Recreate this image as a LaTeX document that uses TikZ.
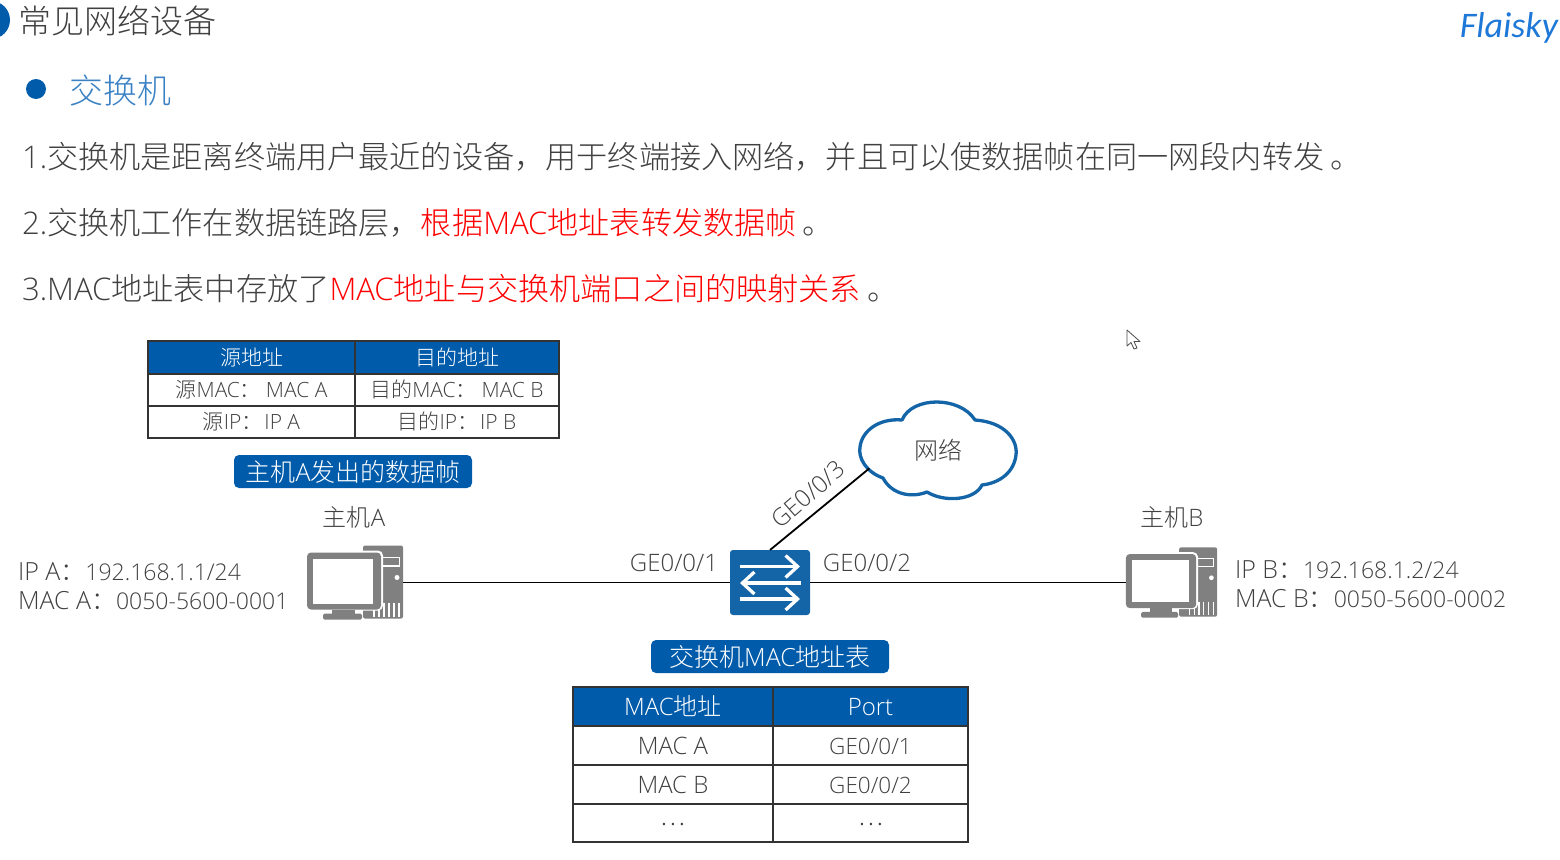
\documentclass[tikz,border=0pt]{standalone}
\usepackage{fontspec}
\setmainfont{Noto Sans CJK SC}[UprightFont=* Light]
\newfontfamily\latfont{Open Sans}[UprightFont=* Light]
\newfontfamily\markfont{Carlito}
\newcommand{\fsz}[1]{\fontsize{#1}{#1}\selectfont}
\newcommand{\lat}[1]{{\latfont #1}}
\newcommand{\latnum}[1]{{\latfont\fsz{23}#1}}
\definecolor{netblue}{RGB}{0, 91, 170}
\definecolor{swblue}{RGB}{20, 100, 168}
\definecolor{headblue}{RGB}{59, 130, 196}
\definecolor{bodygray}{RGB}{64, 64, 64}
\definecolor{pcgray}{RGB}{128, 128, 128}
\definecolor{markblue}{RGB}{30, 120, 215}
\usetikzlibrary{shapes, shapes.geometric, arrows.meta, positioning, calc}
\tikzset{
  every node/.append style={execute at begin node={\rule[-.12em]{0pt}{1em}}},
  plain/.style={inner sep=0pt, outer sep=0pt, text=bodygray},
  bodyline/.style={plain, anchor=west, font=\fsz{31.15}},
  infotext/.style={plain, anchor=west, font=\fsz{25}},
  porttext/.style={plain, font=\fsz{24}},
  headcell/.style={draw=black!80, line width=1.1pt, fill=netblue, text=white, inner sep=0pt, outer sep=0pt},
  bodycell/.style={draw=black!80, line width=1.1pt, fill=white, text=bodygray, inner sep=0pt, outer sep=0pt},
  tagbox/.style={fill=netblue, rounded corners=5pt, text=white, inner sep=0pt, minimum width=238pt, minimum height=33pt, font=\fsz{25}},
  pcnode/.style={inner sep=0pt, outer sep=0pt},
  link/.style={draw=black, line width=1.8pt},
  swarrow/.style={draw=white, line width=3.3pt, -{Straight Barb[length=12pt,width=22pt,line width=3.3pt]}},
  cloudline/.style={draw=swblue, line width=3.3pt, fill=white, line join=round},
  pcicon/.pic={
    \fill[pcgray, rounded corners=2pt] (8,-37) rectangle (48,36);
    \fill[white] (26,-26) rectangle (45,-16);
    \fill[pcgray] (27.5,-24.5) rectangle (43.5,-17.5);
    \fill[white] (42,-5) circle (2.5);
    \foreach \vx in {20,25,30,35,40,45} \draw[white, line width=1.2pt] (\vx-1,20) -- (\vx-1,34);
    \fill[white, rounded corners=5pt] (-50,-32) rectangle (28,28);
    \fill[pcgray, rounded corners=4pt] (-48,-30) rectangle (26,27);
    \fill[white] (-42,-24) rectangle (18,21);
    \fill[pcgray] (-23,27) rectangle (0,31);
    \fill[pcgray, rounded corners=1.5pt] (-32,31) rectangle (7,37);
  }
}

\begin{document}
\begin{tikzpicture}[x=1pt, y=-1pt]
  \useasboundingbox (0,0) rectangle (1560,859);

  \fill[netblue] (-9,20) circle (19);
  \node[plain, anchor=west, font=\fsz{33}] (title) at (18.5,21) {常见网络设备};
  \node[plain, anchor=east, text=markblue, font=\markfont\itshape\fsz{36}] (mark) at (1558,25) {Flaisky};
  \node[circle, fill=netblue, inner sep=0pt, minimum size=20pt] (dot) at (36,89) {};
  \node[plain, anchor=west, text=headblue, font=\fsz{34}] (head) at (69,91) {交换机};

  \node[bodyline] (lineone) at (22,157) {\lat{1.}交换机是距离终端用户最近的设备，用于终端接入网络，并且可以使数据帧在同一网段内转发\hspace{6pt}。};
  \node[bodyline] (linetwo) at (22,223) {\lat{2.}交换机工作在数据链路层，\textcolor{red}{根据\lat{MAC}地址表转发数据帧}\hspace{6pt}。};
  \node[bodyline] (linethree) at (22,289) {\lat{3.MAC}地址表中存放了\textcolor{red}{\lat{MAC}地址与交换机端口之间的映射关系}\hspace{6pt}。};

  \node[headcell, minimum width=207pt, minimum height=33pt, font=\fsz{21}] (srchead) at (251.5,357.5) {源地址};
  \node[headcell, minimum width=204pt, minimum height=33pt, font=\fsz{21}] (dsthead) at (457,357.5) {目的地址};
  \node[bodycell, minimum width=207pt, minimum height=32pt, font=\fsz{21}] (srcmac) at (251.5,390) {源\lat{MAC}：\hspace{5pt}\lat{MAC A}};
  \node[bodycell, minimum width=204pt, minimum height=32pt, font=\fsz{21}] (dstmac) at (457,390) {目的\lat{MAC}：\hspace{5pt}\lat{MAC B}};
  \node[bodycell, minimum width=207pt, minimum height=32pt, font=\fsz{21}] (srcip) at (251.5,422) {源\lat{IP}：\hspace{2pt}\lat{IP A}};
  \node[bodycell, minimum width=204pt, minimum height=32pt, font=\fsz{21}] (dstip) at (457,422) {目的\lat{IP}：\hspace{2pt}\lat{IP B}};
  \node[tagbox] (frametag) at (353,471.5) {主机\lat{A}发出的数据帧};

  \node[porttext] (hosta) at (354,517) {主机\lat{A}};
  \node[porttext] (hostb) at (1172,517) {主机\lat{B}};
  \node[infotext] (ipa) at (18,571) {\lat{IP A}：\latnum{192.168.1.1/24}};
  \node[infotext] (maca) at (18,600) {\lat{MAC A}：\latnum{0050-5600-0001}};
  \node[infotext] (ipb) at (1235,569) {\lat{IP B}：\latnum{192.168.1.2/24}};
  \node[infotext] (macb) at (1235,598) {\lat{MAC B}：\latnum{0050-5600-0002}};

  \node[pcnode, minimum width=96pt, minimum height=74pt] (pca) at (355,582.5) {};
  \pic at (pca) {pcicon};
  \node[pcnode, minimum width=91pt, minimum height=71pt] (pcb) at (1171.5,582.5) {};
  \pic[scale=0.95] at (pcb) {pcicon};

  \node[fill=swblue, rounded corners=3pt, inner sep=0pt, outer sep=0pt, minimum width=80pt, minimum height=65pt] (sw) at (770,582.5) {};
  \draw[swarrow] ([shift={(-30,-16)}]sw.center) -- ([shift={(30,-16)}]sw.center);
  \draw[swarrow] ([shift={(31,0.5)}]sw.center) -- ([shift={(-30,0.5)}]sw.center);
  \draw[swarrow] ([shift={(-30,16.5)}]sw.center) -- ([shift={(30,16.5)}]sw.center);

  \draw[cloudline] (902,420) .. controls (912,396) and (960,396) .. (975,420)
    .. controls (1005,422) and (1018,440) .. (1016,455)
    .. controls (1014,472) and (1000,483) .. (982,485)
    .. controls (975,500) and (945,503) .. (927,492)
    .. controls (912,498) and (892,495) .. (883,478)
    .. controls (866,472) and (858,458) .. (860,447)
    .. controls (862,430) and (880,418) .. (902,420) -- cycle;
  \node[ellipse, inner sep=0pt, minimum width=150pt, minimum height=90pt, text=bodygray, font=\fsz{24}] (net) at (938,450) {网络};

  \draw[link] (pca.east) -- (sw.west);
  \draw[link] (sw.east) -- (pcb.west);
  \draw[link] (sw.north) -- (net.195);

  \node[porttext] (portone) at (674,562) {\lat{GE0/0/1}};
  \node[porttext] (porttwo) at (867,562) {\lat{GE0/0/2}};
  \node[porttext, rotate=41] (portthree) at (808,494) {\lat{GE0/0/3}};

  \node[tagbox] (mactag) at (770,656.5) {交换机\lat{MAC}地址表};
  \node[headcell, minimum width=200pt, minimum height=39pt, font=\fsz{24}] (machead) at (673,706.5) {\lat{MAC}地址};
  \node[headcell, minimum width=195pt, minimum height=39pt, font=\fsz{24}] (porthead) at (870.5,706.5) {\lat{Port}};
  \node[bodycell, minimum width=200pt, minimum height=39pt, font=\fsz{24}] (maca2) at (673,745.5) {\lat{MAC A}};
  \node[bodycell, minimum width=195pt, minimum height=39pt, font=\fsz{22.5}] (porta) at (870.5,745.5) {\lat{GE0/0/1}};
  \node[bodycell, minimum width=200pt, minimum height=39pt, font=\fsz{24}] (macb2) at (673,784.5) {\lat{MAC B}};
  \node[bodycell, minimum width=195pt, minimum height=39pt, font=\fsz{22.5}] (portb) at (870.5,784.5) {\lat{GE0/0/2}};
  \node[bodycell, minimum width=200pt, minimum height=38pt, font=\fsz{24}] (macc) at (673,823) {\raisebox{7pt}{…}};
  \node[bodycell, minimum width=195pt, minimum height=38pt, font=\fsz{24}] (portc) at (870.5,823) {\raisebox{7pt}{…}};

  \draw[black!70, fill=white, line width=0.8pt, line join=round] (1127,330) -- (1127,346) -- (1131,342.5) -- (1134,349) -- (1137,348) -- (1134,341.5) -- (1140,341.5) -- cycle;
\end{tikzpicture}
\end{document}
